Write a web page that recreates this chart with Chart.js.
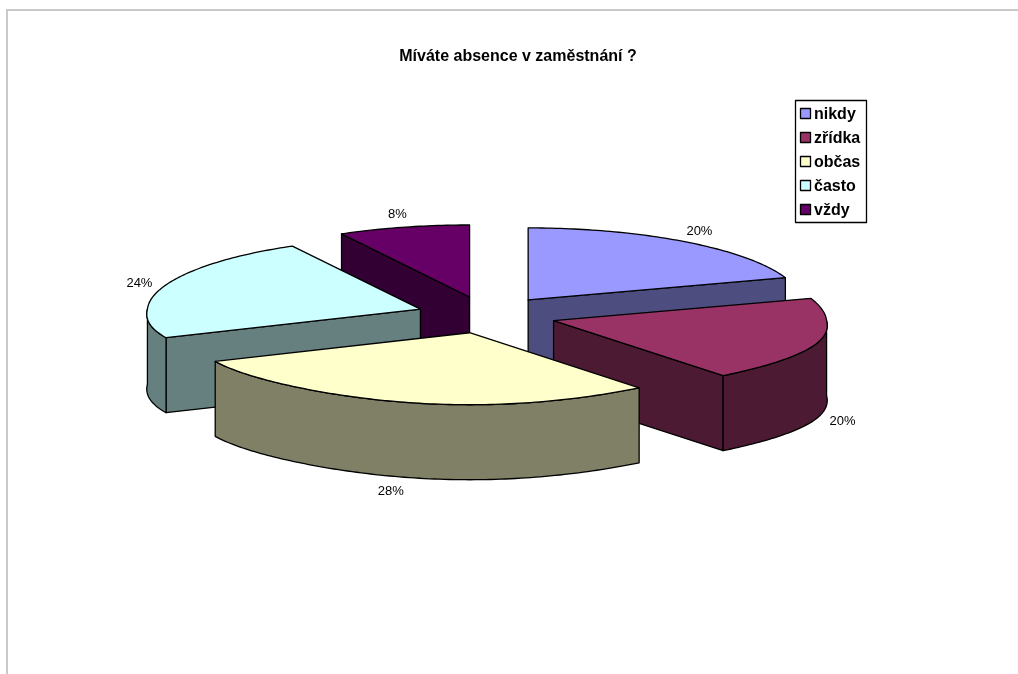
<!DOCTYPE html>
<html lang="cs">
<head>
<meta charset="utf-8">
<title>Míváte absence v zaměstnání ?</title>
<script src="https://cdn.jsdelivr.net/npm/chart.js@4/dist/chart.umd.min.js"></script>
<style>
    html, body { margin: 0; background: #fff; overflow: hidden; }
    #frame { position: absolute; left: 6px; top: 9px; right: 0; bottom: 0; border-top: 2px solid #c9c9c9; border-left: 2px solid #c9c9c9; }
    #absence-chart { position: absolute; left: 0; top: 0; }
</style>
</head>
<body>
<div id="frame"></div>
<canvas id="absence-chart" width="1018" height="674"></canvas>
<script>
const chartTitle = 'Míváte absence v zaměstnání ?';
const answers = ['nikdy', 'zřídka', 'občas', 'často', 'vždy'];
const shares = [20, 20, 28, 24, 8];
const topColors = ['#9999FF', '#993366', '#FFFFCC', '#CCFFFF', '#660066'];
const wallColors = ['#4D4D80', '#4D1A33', '#808066', '#668080', '#330033'];

const FONT = '"Liberation Sans", Arial, sans-serif';
const PIE_RADIUS = 273;
const TILT = 72 / 273;      // vertical squash of the pie disc
const NEAR_WIDEN = 0.07;    // the near half of the disc is drawn slightly wider
const FAR_NARROW = 0.03;    // and the far half slightly narrower
const NEAR_LIFT = 3.5;      // near corners sit a little higher
const DEPTH = 75;           // height of the extruded walls
const EXPLODE = 70;         // how far each slice moves away from the centre
const TITLE_SHIFT = 31;     // the title sits right of the pie centre
const LINE_WIDTH = 1.3;
const STEP = Math.PI / 180;

let arcRadius = PIE_RADIUS;

const sliceOrigin = (arc) => {
    const mid = (arc.startAngle + arc.endAngle) / 2;
    return { x: arc.x + Math.cos(mid) * EXPLODE, y: arc.y + Math.sin(mid) * EXPLODE * TILT };
};

const rimPoint = (origin, angle) => {
    const sin = Math.sin(angle);
    const widen = sin > 0 ? NEAR_WIDEN * sin : FAR_NARROW * sin;
    const lift = sin > 0 ? NEAR_LIFT * Math.sin(2 * angle) ** 2 : 0;
    return {
        x: origin.x + Math.cos(angle) * arcRadius * (1 + widen),
        y: origin.y + sin * arcRadius * TILT - lift
    };
};

// walks the rim between two angles with short segments, in either direction
const traceRim = (ctx, origin, from, to, drop = 0) => {
    const count = Math.max(1, Math.ceil(Math.abs(to - from) / STEP));
    for (let i = 0; i <= count; i++) {
        const p = rimPoint(origin, from + (to - from) * i / count);
        ctx.lineTo(p.x, p.y + drop);
    }
};

const fillAndStroke = (ctx, color) => {
    ctx.fillStyle = color;
    ctx.fill();
    ctx.strokeStyle = '#000';
    ctx.lineWidth = LINE_WIDTH;
    ctx.lineJoin = 'round';
    ctx.stroke();
};

const drawRadialWall = (ctx, origin, angle, color) => {
    const rim = rimPoint(origin, angle);
    ctx.beginPath();
    ctx.moveTo(origin.x, origin.y);
    ctx.lineTo(rim.x, rim.y);
    ctx.lineTo(rim.x, rim.y + DEPTH);
    ctx.lineTo(origin.x, origin.y + DEPTH);
    ctx.closePath();
    fillAndStroke(ctx, color);
};

// only the part of the rim facing the viewer (0..PI on the canvas) has a visible wall
const drawOuterWall = (ctx, origin, startAngle, endAngle, color) => {
    const ranges = [[startAngle, endAngle], [startAngle + 2 * Math.PI, endAngle + 2 * Math.PI]];
    ranges.forEach(([a, b]) => {
        const from = Math.max(a, 0);
        const to = Math.min(b, Math.PI);
        if (from >= to) return;
        ctx.beginPath();
        traceRim(ctx, origin, from, to);
        traceRim(ctx, origin, to, from, DEPTH);
        ctx.closePath();
        fillAndStroke(ctx, color);
    });
};

const drawSlice = (ctx, arc, origin, wallColor) => {
    // a cut face is seen only when its outward side points towards the viewer
    if (-Math.cos(arc.startAngle) > 1e-6) drawRadialWall(ctx, origin, arc.startAngle, wallColor);
    if (Math.cos(arc.endAngle) > 1e-6) drawRadialWall(ctx, origin, arc.endAngle, wallColor);
    drawOuterWall(ctx, origin, arc.startAngle, arc.endAngle, wallColor);
    ctx.beginPath();
    ctx.moveTo(origin.x, origin.y);
    traceRim(ctx, origin, arc.startAngle, arc.endAngle);
    ctx.closePath();
    fillAndStroke(ctx, arc.options.backgroundColor);
};

const drawShareLabel = (ctx, arc, origin, value) => {
    const mid = (arc.startAngle + arc.endAngle) / 2;
    const rim = rimPoint(origin, mid);
    const drop = Math.sin(mid) > 0 ? DEPTH : 0;
    ctx.fillStyle = '#000';
    ctx.font = `13px ${FONT}`;
    ctx.textAlign = 'center';
    ctx.textBaseline = 'middle';
    ctx.fillText(`${value}%`, rim.x + Math.cos(mid) * 25, rim.y + drop + Math.sin(mid) * 14 + 1);
};

const drawLegendBox = (ctx, chart) => {
    const left = 795, top = 100, width = 71, height = 122, rowHeight = 24;
    ctx.fillStyle = '#fff';
    ctx.fillRect(left, top, width, height);
    ctx.strokeStyle = '#000';
    ctx.lineWidth = LINE_WIDTH;
    ctx.strokeRect(left + 0.5, top + 0.5, width, height);
    ctx.font = `bold 16px ${FONT}`;
    ctx.textAlign = 'left';
    ctx.textBaseline = 'middle';
    chart.data.labels.forEach((label, i) => {
        const rowY = top + 13.5 + i * rowHeight;
        ctx.fillStyle = chart.data.datasets[0].backgroundColor[i];
        ctx.fillRect(left + 5.5, rowY - 5, 10, 10);
        ctx.strokeRect(left + 5.5, rowY - 5, 10, 10);
        ctx.fillStyle = '#000';
        ctx.fillText(label, left + 19, rowY + 1);
    });
};

const exploded3dPie = {
    id: 'exploded3dPie',
    afterLayout(chart) {
        chart.titleBlock.left += TITLE_SHIFT;
        chart.titleBlock.right += TITLE_SHIFT;
    },
    beforeDatasetDraw(chart, args) {
        const ctx = chart.ctx;
        const arcs = args.meta.data.map((arc, index) => ({ arc, index, origin: sliceOrigin(arc) }));
        arcRadius = args.meta.data[0].outerRadius;
        // paint back to front so nearer slices cover the ones behind them
        arcs.sort((a, b) => a.origin.y - b.origin.y);
        arcs.forEach(({ arc, index, origin }) => drawSlice(ctx, arc, origin, wallColors[index]));
        arcs.forEach(({ arc, index, origin }) => drawShareLabel(ctx, arc, origin, shares[index]));
        return false;
    },
    afterDraw(chart) {
        drawLegendBox(chart.ctx, chart);
    }
};

new Chart(document.getElementById('absence-chart'), {
    type: 'pie',
    data: {
        labels: answers,
        datasets: [{ data: shares, backgroundColor: topColors, borderWidth: 0, radius: PIE_RADIUS }]
    },
    options: {
        responsive: false,
        animation: false,
        layout: { padding: { left: 0, right: 44, top: 0, bottom: 110 } },
        plugins: {
            legend: { display: false },
            tooltip: { enabled: false },
            title: {
                display: true,
                text: chartTitle,
                color: '#000',
                font: { family: FONT, size: 16, weight: 'bold' },
                padding: { top: 46.5, bottom: 0 }
            }
        }
    },
    plugins: [exploded3dPie]
});
</script>
</body>
</html>
